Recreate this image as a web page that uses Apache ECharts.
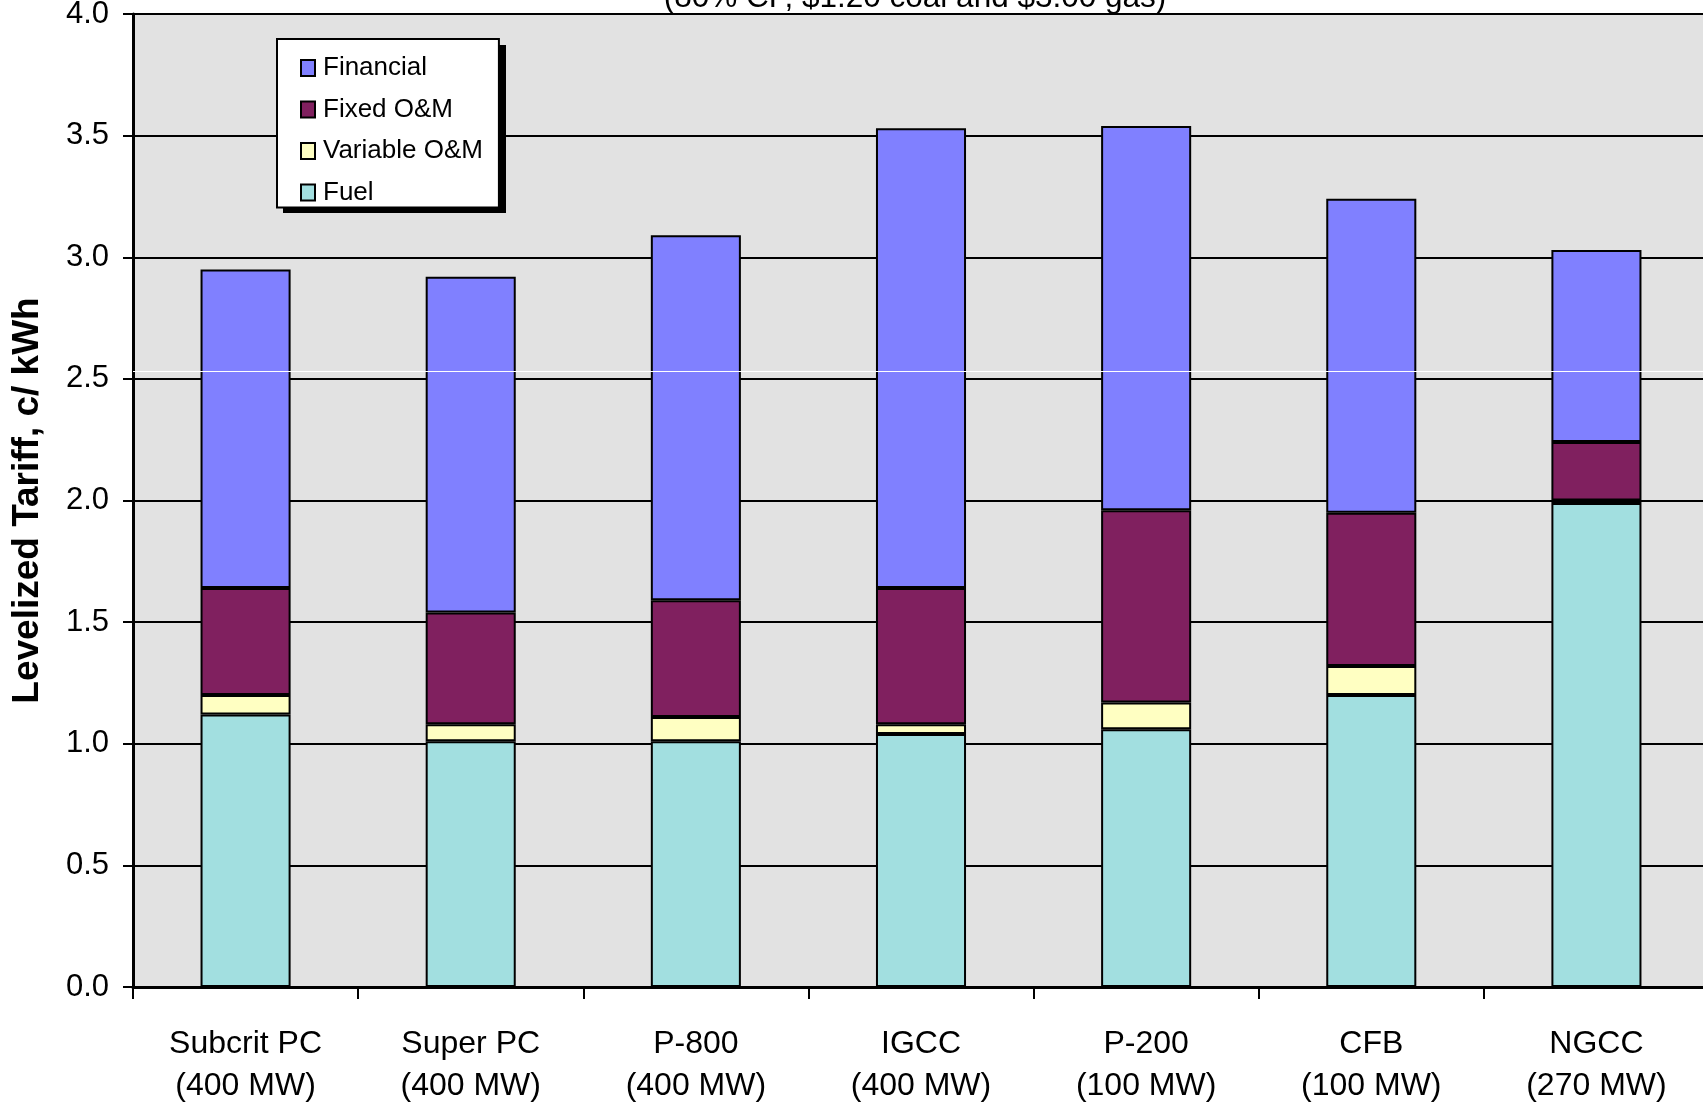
<!DOCTYPE html>
<html>
<head>
<meta charset="utf-8">
<script src="https://cdn.jsdelivr.net/npm/echarts@6/dist/echarts.min.js"></script>
<style>
html,body{margin:0;padding:0;background:#fff;}
#chart{width:1703px;height:1105px;}
</style>
</head>
<body>
<div id="chart"></div>
<script>
// ---- data ----
const plants = ['Subcrit PC', 'Super PC', 'P-800', 'IGCC', 'P-200', 'CFB', 'NGCC'];
const capacities = ['(400 MW)', '(400 MW)', '(400 MW)', '(400 MW)', '(100 MW)', '(100 MW)', '(270 MW)'];
const fuel        = [1.12, 1.01, 1.01, 1.04, 1.06, 1.20, 1.99];
const variableOM  = [0.08, 0.07, 0.10, 0.04, 0.11, 0.12, 0.01];
const fixedOM     = [0.44, 0.46, 0.48, 0.56, 0.79, 0.63, 0.24];
const financial   = [1.31, 1.38, 1.50, 1.89, 1.58, 1.29, 0.79];
const seriesNames = ['Fuel', 'Variable O&M', 'Fixed O&M', 'Financial'];
const legendOrder = ['Financial', 'Fixed O&M', 'Variable O&M', 'Fuel'];
const subtitle = '(80% CF, $1.20 coal and $3.00 gas)';
const yAxisTitle = 'Levelized Tariff, c/ kWh';
const artifactLine = 2.53;

const FONT = '"Liberation Sans", Arial, Helvetica, sans-serif';
const colors = { 'Fuel': '#a2dfe0', 'Variable O&M': '#ffffc2', 'Fixed O&M': '#80205f', 'Financial': '#8080ff' };
const values = { 'Fuel': fuel, 'Variable O&M': variableOM, 'Fixed O&M': fixedOM, 'Financial': financial };
const categories = plants.map((p, i) => p + '\n' + capacities[i]);

const chart = echarts.init(document.getElementById('chart'), null, { renderer: 'canvas' });

const series = seriesNames.map(name => {
  const s = {
    name: name,
    type: 'bar',
    stack: 'total',
    barWidth: '40%',
    data: values[name],
    itemStyle: { color: colors[name], borderColor: '#000', borderWidth: 2 },
    emphasis: { disabled: true }
  };
  if (name === 'Financial') {
    s.markLine = {
      silent: true,
      symbol: ['none', 'none'],
      label: { show: false },
      lineStyle: { color: '#ffffff', width: 1.2, type: 'solid' },
      data: [{ yAxis: artifactLine }],
      z: 10
    };
  }
  return s;
});

chart.setOption({
  animation: false,
  backgroundColor: '#ffffff',
  textStyle: { fontFamily: FONT },
  title: {
    text: subtitle,
    left: 915,
    textAlign: 'center',
    top: -18,
    padding: 0,
    textStyle: { fontFamily: FONT, fontSize: 31.5, fontWeight: 'normal', color: '#000' }
  },
  // drop shadow of the legend box (decoration only)
  graphic: [{
    type: 'rect',
    z: 3,
    silent: true,
    shape: { x: 283, y: 45, width: 223, height: 168 },
    style: { fill: '#000' }
  }],
  legend: {
    data: legendOrder,
    icon: 'rect',
    orient: 'vertical',
    align: 'left',
    left: 277,
    top: 39,
    padding: [16, 16, 2, 23],
    itemGap: 15.5,
    itemWidth: 14,
    itemHeight: 16,
    backgroundColor: '#ffffff',
    borderColor: '#000',
    borderWidth: 2,
    selectedMode: false,
    z: 5,
    textStyle: { fontFamily: FONT, fontSize: 26, color: '#000', padding: [0, 0, 0, 3] }
  },
  grid: {
    left: 133,
    right: -6,
    top: 14,
    bottom: 118,
    containLabel: false,
    outerBoundsMode: 'none',
    show: true,
    backgroundColor: '#e2e2e2',
    borderWidth: 0
  },
  xAxis: {
    type: 'category',
    data: categories,
    axisLine: { show: true, onZero: false, lineStyle: { color: '#000', width: 3 } },
    axisTick: { show: true, alignWithLabel: false, interval: 0, length: 12, lineStyle: { color: '#000', width: 2 } },
    axisLabel: {
      interval: 0,
      margin: 36,
      fontFamily: FONT,
      fontSize: 32,
      lineHeight: 42,
      color: '#000'
    },
    splitLine: { show: false }
  },
  yAxis: {
    type: 'value',
    min: 0,
    max: 4,
    interval: 0.5,
    name: yAxisTitle,
    nameLocation: 'middle',
    nameGap: 87,
    nameTextStyle: { fontFamily: FONT, fontSize: 37, fontWeight: 'bold', color: '#000' },
    axisLine: { show: true, lineStyle: { color: '#000', width: 3 } },
    axisTick: { show: true, length: 10, lineStyle: { color: '#000', width: 2 } },
    axisLabel: {
      margin: 24,
      fontFamily: FONT,
      fontSize: 31,
      color: '#000',
      formatter: v => v.toFixed(1)
    },
    splitLine: { show: true, lineStyle: { color: '#000', width: 2 } }
  },
  series: series
});
</script>
</body>
</html>
